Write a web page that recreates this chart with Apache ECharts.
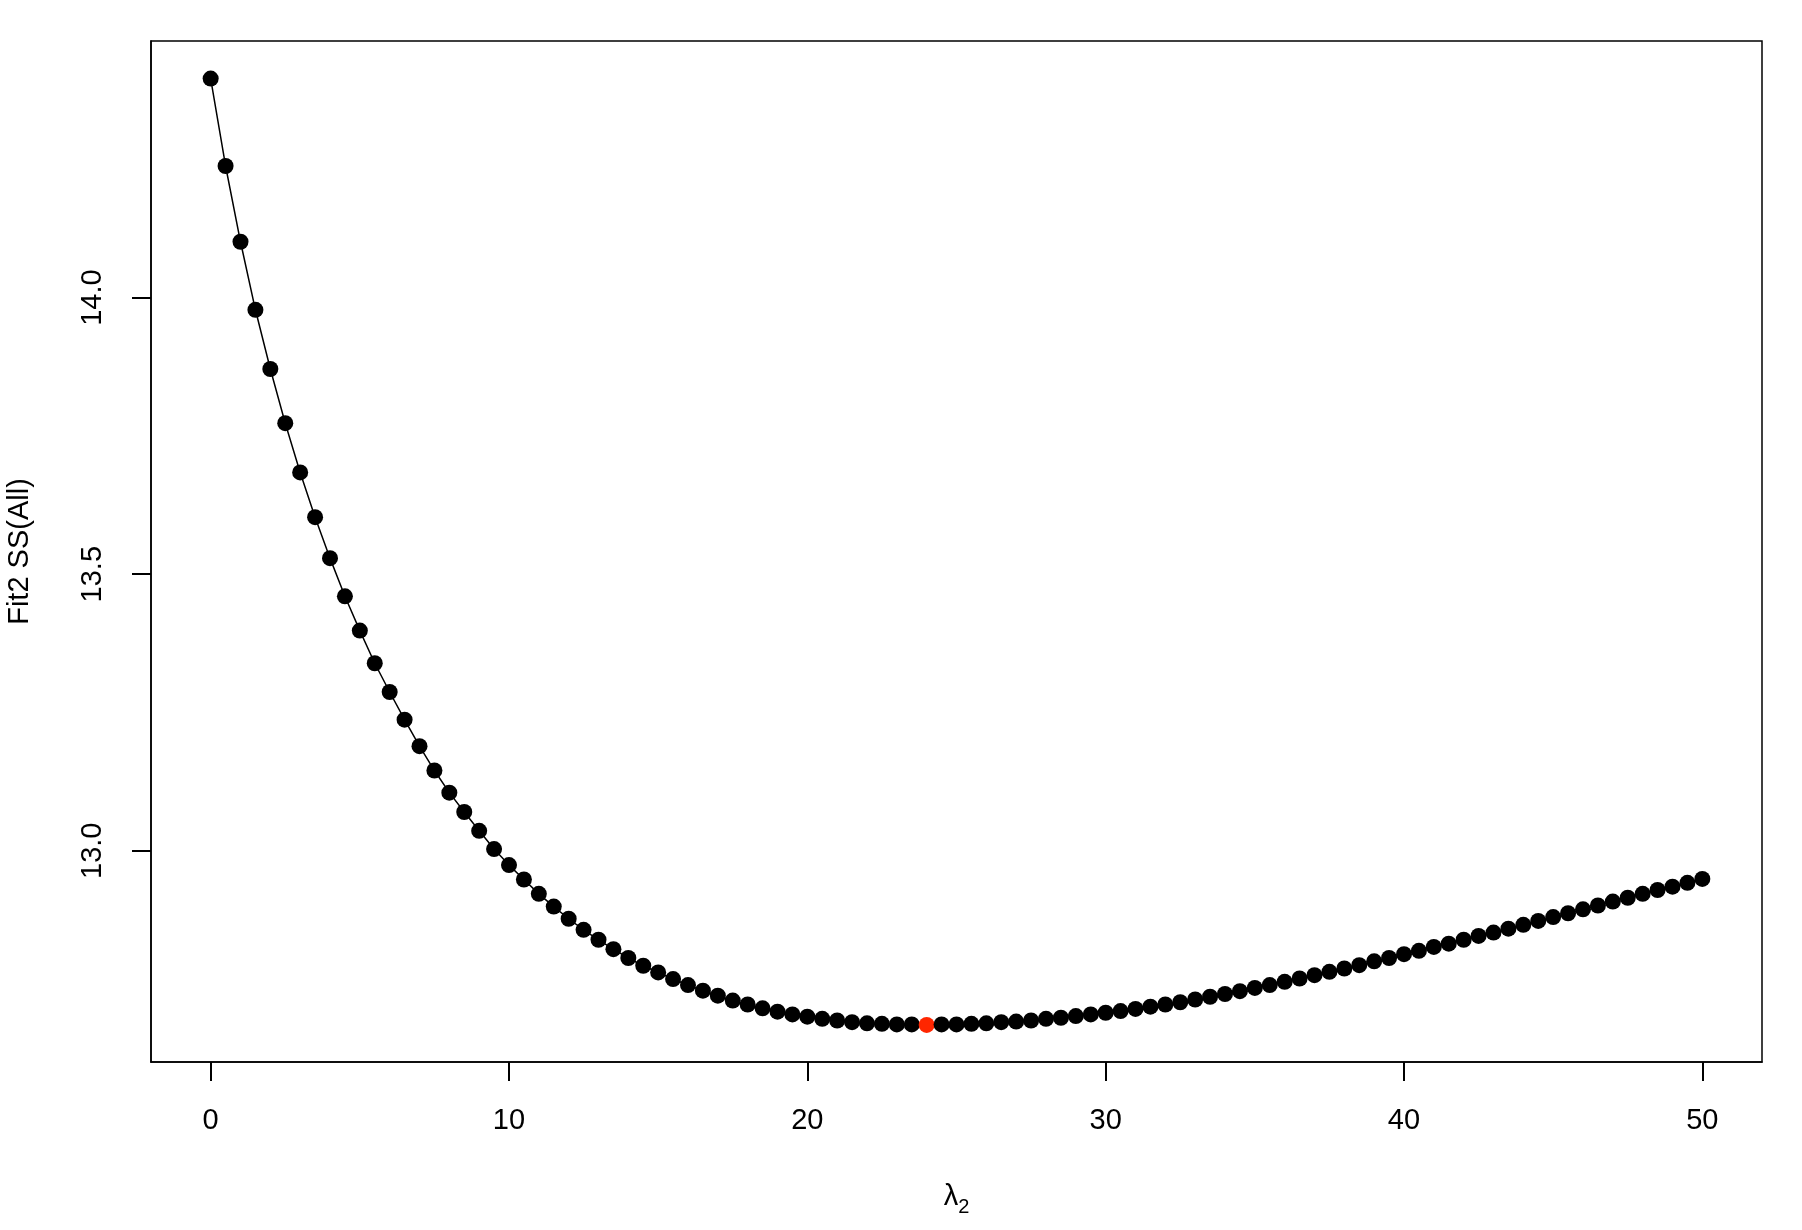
<!DOCTYPE html>
<html>
<head>
<meta charset="utf-8">
<script src="https://cdn.jsdelivr.net/npm/echarts@6/dist/echarts.min.js"></script>
<style>
  body { margin: 0; background: #fff; }
  #grafica { width: 1802px; height: 1230px; }
</style>
</head>
<body>
<div id="grafica"></div>
<script>
// valores de lambda (eje x)
var lambdas = [
  0, 0.5, 1, 1.5, 2, 2.5, 3, 3.5, 4, 4.5, 5, 5.5, 6, 6.5, 7, 7.5, 8, 8.5, 9, 9.5,
  10, 10.5, 11, 11.5, 12, 12.5, 13, 13.5, 14, 14.5, 15, 15.5, 16, 16.5, 17, 17.5, 18, 18.5, 19, 19.5,
  20, 20.5, 21, 21.5, 22, 22.5, 23, 23.5, 24, 24.5, 25, 25.5, 26, 26.5, 27, 27.5, 28, 28.5, 29, 29.5,
  30, 30.5, 31, 31.5, 32, 32.5, 33, 33.5, 34, 34.5, 35, 35.5, 36, 36.5, 37, 37.5, 38, 38.5, 39, 39.5,
  40, 40.5, 41, 41.5, 42, 42.5, 43, 43.5, 44, 44.5, 45, 45.5, 46, 46.5, 47, 47.5, 48, 48.5, 49, 49.5,
  50
];
// Fit2 SS(All) para cada lambda
var ssAll = [
  14.396, 14.238, 14.101, 13.978, 13.871, 13.773, 13.684, 13.603, 13.529, 13.460,
  13.398, 13.339, 13.287, 13.237, 13.189, 13.145, 13.105, 13.070, 13.036, 13.003,
  12.974, 12.948, 12.922, 12.899, 12.877, 12.857, 12.839, 12.822, 12.806, 12.792,
  12.780, 12.768, 12.757, 12.747, 12.738, 12.729, 12.722, 12.715, 12.709, 12.704,
  12.700, 12.696, 12.693, 12.690, 12.688, 12.687, 12.686, 12.686, 12.685, 12.686,
  12.686, 12.687, 12.688, 12.690, 12.691, 12.693, 12.696, 12.698, 12.701, 12.704,
  12.707, 12.710, 12.714, 12.718, 12.722, 12.726, 12.731, 12.736, 12.741, 12.746,
  12.752, 12.757, 12.763, 12.769, 12.775, 12.781, 12.787, 12.793, 12.800, 12.806,
  12.813, 12.819, 12.826, 12.832, 12.839, 12.846, 12.852, 12.859, 12.866, 12.873,
  12.880, 12.887, 12.894, 12.901, 12.908, 12.915, 12.922, 12.929, 12.935, 12.942,
  12.949
];
// lambda optimo (punto rojo)
var lambdaOptimo = 24;
// marcas de los ejes
var ticksX = [0, 10, 20, 30, 40, 50];
var ticksY = [13.0, 13.5, 14.0];

var fuente = '"Liberation Sans", Arial, Helvetica, sans-serif';

var datos = lambdas.map(function (l, i) {
  var punto = { value: [l, ssAll[i]] };
  if (l === lambdaOptimo) {
    punto.itemStyle = { color: '#ff2600' };
  }
  return punto;
});

var myChart = echarts.init(document.getElementById('grafica'));
var option = {
  backgroundColor: '#fff',
  animation: false,
  grid: {
    left: 151, top: 41, width: 1611, height: 1021,
    outerBoundsMode: 'none',
    show: true, borderColor: '#000', borderWidth: 1.5
  },
  xAxis: {
    type: 'value',
    min: -2, max: 52,
    splitLine: { show: false },
    axisLine: { show: true, onZero: false, lineStyle: { color: '#000', width: 1.5 } },
    axisTick: {
      show: true, length: 19, customValues: ticksX,
      lineStyle: { color: '#000', width: 2 }
    },
    axisLabel: {
      customValues: ticksX, margin: 44, fontSize: 29, color: '#000', fontFamily: fuente
    },
    name: '{l|λ}{s|2}',
    nameLocation: 'middle',
    nameGap: 115,
    nameTextStyle: {
      rich: {
        l: { fontSize: 29, lineHeight: 40, verticalAlign: 'middle', color: '#000', fontFamily: fuente },
        s: { fontSize: 20, lineHeight: 20, verticalAlign: 'bottom', color: '#000', fontFamily: fuente }
      }
    }
  },
  yAxis: {
    type: 'value',
    min: 12.618, max: 14.464,
    splitLine: { show: false },
    axisLine: { show: true, onZero: false, lineStyle: { color: '#000', width: 1.5 } },
    axisTick: {
      show: true, length: 19, customValues: ticksY,
      lineStyle: { color: '#000', width: 2 }
    },
    axisLabel: {
      customValues: ticksY, rotate: 90, margin: 44, fontSize: 29, color: '#000', fontFamily: fuente,
      formatter: function (v) { return v.toFixed(1); }
    },
    name: 'Fit2 SS(All)',
    nameLocation: 'middle',
    nameRotate: 90,
    nameGap: 117,
    nameTextStyle: { fontSize: 29, color: '#000', fontFamily: fuente }
  },
  series: [{
    type: 'line',
    data: datos,
    symbol: 'circle',
    symbolSize: 16,
    showAllSymbol: true,
    lineStyle: { color: '#000', width: 1.5 },
    itemStyle: { color: '#000' },
    z: 3
  }]
};
option && myChart.setOption(option);
</script>
</body>
</html>
